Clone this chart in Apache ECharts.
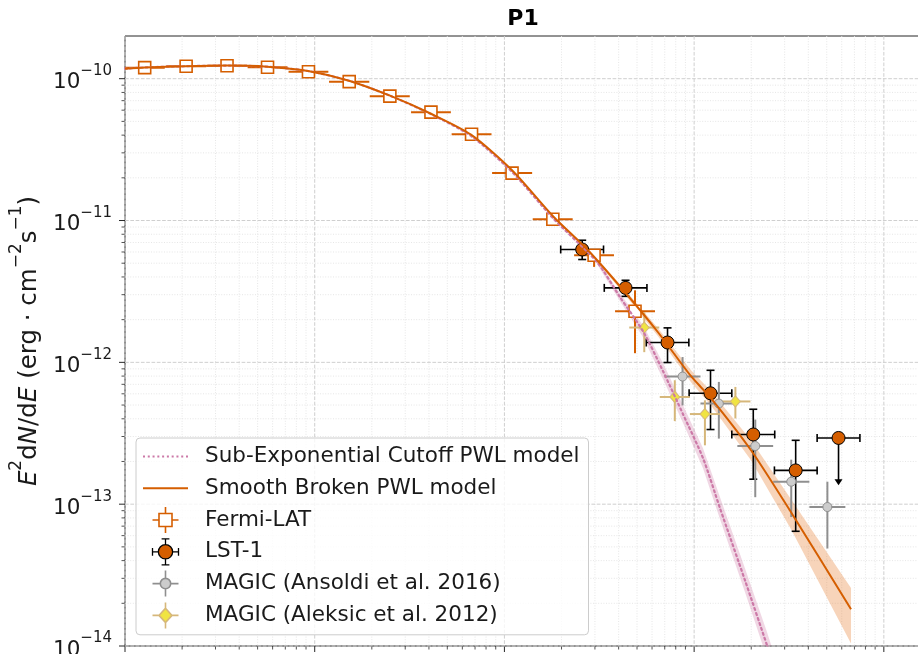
<!DOCTYPE html>
<html>
<head>
<meta charset="utf-8">
<script src="https://cdn.jsdelivr.net/npm/echarts@6/dist/echarts.min.js"></script>
<style>html,body{margin:0;padding:0;background:#fff}#chart{width:918px;height:654px}</style>
</head>
<body>
<div id="chart"></div>
<script>
// ---------------- data ----------------
// Fermi-LAT (energy GeV, E2dN/dE erg cm-2 s-1)
const fermiE   = [0.127, 0.210, 0.345, 0.564, 0.927, 1.52, 2.49, 4.10, 6.71, 10.97, 18.0, 29.7, 48.8];
const fermiElo = [0.0997, 0.165, 0.271, 0.443, 0.728, 1.19, 1.95, 3.22, 5.27, 8.61, 14.1, 23.3, 38.3];
const fermiEhi = [0.162, 0.268, 0.440, 0.719, 1.18, 1.94, 3.17, 5.22, 8.55, 14.0, 22.9, 37.8, 62.2];
const fermiF   = [1.196e-10, 1.225e-10, 1.235e-10, 1.205e-10, 1.12e-10, 9.53e-11, 7.53e-11, 5.81e-11, 4.06e-11, 2.16e-11, 1.02e-11, 5.69e-12, 2.29e-12];
const fermiFlo = [1.17e-10, 1.20e-10, 1.21e-10, 1.18e-10, 1.09e-10, 9.25e-11, 7.3e-11, 5.6e-11, 3.9e-11, 2.07e-11, 9.7e-12, 4.71e-12, 1.16e-12];
const fermiFhi = [1.22e-10, 1.25e-10, 1.26e-10, 1.23e-10, 1.15e-10, 9.8e-11, 7.75e-11, 6.0e-11, 4.2e-11, 2.25e-11, 1.07e-11, 6.18e-12, 3.22e-12];

// LST-1 detections
const lstE   = [25.7, 43.5, 72.4, 122, 205, 343];
const lstElo = [19.8, 33.6, 55.9, 94.1, 158, 265];
const lstEhi = [33.3, 56.4, 93.8, 158, 266, 445];
const lstF   = [6.25e-12, 3.35e-12, 1.38e-12, 6.05e-13, 3.10e-13, 1.73e-13];
const lstFlo = [5.31e-12, 2.92e-12, 9.97e-13, 3.36e-13, 1.50e-13, 6.44e-14];
const lstFhi = [7.26e-12, 3.79e-12, 1.75e-12, 8.79e-13, 4.67e-13, 2.82e-13];
// LST-1 upper limit
const lstUlE = [577];
const lstUlElo = [445];
const lstUlEhi = [748];
const lstUlF = [2.93e-13];
const lstUlArrowTip = [1.36e-13];

// MAGIC (Ansoldi et al. 2016)
const ansE   = [86.9, 135, 210, 325, 504];
const ansElo = [69.8, 108, 169, 261, 405];
const ansEhi = [108, 168, 261, 405, 627];
const ansF   = [7.94e-13, 5.12e-13, 2.57e-13, 1.44e-13, 9.55e-14];
const ansFlo = [4.97e-13, 2.90e-13, 1.12e-13, 8.12e-14, 4.87e-14];
const ansFhi = [1.09e-12, 7.28e-13, 3.95e-13, 2.06e-13, 1.44e-13];

// MAGIC (Aleksic et al. 2012)
const aleE   = [54.6, 79.1, 114, 165];
const aleElo = [45.5, 65.9, 95, 137.5];
const aleEhi = [65.5, 94.9, 137, 198];
const aleF   = [1.76e-12, 5.70e-13, 4.32e-13, 5.30e-13];
const aleFlo = [1.18e-12, 3.85e-13, 2.60e-13, 4.02e-13];
const aleFhi = [2.25e-12, 7.48e-13, 5.40e-13, 6.71e-13];

// Smooth broken PWL model (curve) and its band
const sbpE = [0.1, 0.1274, 0.2097, 0.3448, 0.5606, 0.922, 1.516, 2.494, 4.104, 6.668, 10.97, 18.04, 27.59, 43.2, 64.5, 96.3, 122.8, 199.5, 324.2, 671.5];
const sbpF = [1.176e-10, 1.201e-10, 1.225e-10, 1.237e-10, 1.215e-10, 1.133e-10, 9.68e-11, 7.59e-11, 5.66e-11, 4.03e-11, 2.26e-11, 1.072e-11, 6.17e-12, 3.12e-12, 1.63e-12, 7.98e-13, 5.58e-13, 2.40e-13, 8.77e-14, 1.815e-14];
const sbpBandE  = [18.04, 27.59, 43.2, 64.5, 96.3, 122.8, 199.5, 324.2, 671.5];
const sbpBandLo = [1.055e-11, 6.02e-12, 2.995e-12, 1.529e-12, 7.24e-13, 4.97e-13, 2.04e-13, 6.65e-14, 1.04e-14];
const sbpBandHi = [1.09e-11, 6.32e-12, 3.25e-12, 1.738e-12, 8.80e-13, 6.26e-13, 2.82e-13, 1.082e-13, 2.56e-14];

// Sub-exponential cutoff PWL model and its band
const secE = [0.1, 0.1274, 0.2097, 0.3448, 0.5606, 0.922, 1.516, 2.494, 4.104, 6.668, 10.97, 18.04, 30.8, 40.7, 53.8, 68.6, 87.4, 111.4, 136.9, 185.5, 242.3, 283.7];
const secF = [1.176e-10, 1.201e-10, 1.225e-10, 1.237e-10, 1.215e-10, 1.133e-10, 9.68e-11, 7.59e-11, 5.62e-11, 3.95e-11, 2.20e-11, 1.038e-11, 5.08e-12, 2.88e-12, 1.657e-12, 8.65e-13, 4.31e-13, 2.11e-13, 9.36e-14, 2.90e-14, 1.01e-14, 5.3e-15];
const secBandE  = [30.8, 40.7, 53.8, 68.6, 87.4, 111.4, 136.9, 185.5, 242.3, 283.7];
const secBandLo = [4.92e-12, 2.70e-12, 1.504e-12, 7.59e-13, 3.73e-13, 1.79e-13, 7.83e-14, 2.39e-14, 8.2e-15, 4.3e-15];
const secBandHi = [5.25e-12, 3.07e-12, 1.826e-12, 9.85e-13, 4.99e-13, 2.48e-13, 1.12e-13, 3.52e-14, 1.25e-14, 6.5e-15];

// axes
const xMin = 0.1, xMax = 1570;
const yMin = 1e-14, yMax = 2e-10;
const xMajorTicks = [0.1, 1, 10, 100, 1000];
const xMinorTicks = [0.2,0.3,0.4,0.5,0.6,0.7,0.8,0.9, 2,3,4,5,6,7,8,9, 20,30,40,50,60,70,80,90, 200,300,400,500,600,700,800,900];
const yMajorTicks = [1e-14, 1e-13, 1e-12, 1e-11, 1e-10];
const yTickExponents = ['−14', '−13', '−12', '−11', '−10'];
const yMinorTicks = [2e-14,3e-14,4e-14,5e-14,6e-14,7e-14,8e-14,9e-14, 2e-13,3e-13,4e-13,5e-13,6e-13,7e-13,8e-13,9e-13,
                     2e-12,3e-12,4e-12,5e-12,6e-12,7e-12,8e-12,9e-12, 2e-11,3e-11,4e-11,5e-11,6e-11,7e-11,8e-11,9e-11];

const seriesNames = ['Sub-Exponential Cutoff PWL model', 'Smooth Broken PWL model', 'Fermi-LAT', 'LST-1',
                     'MAGIC (Ansoldi et al. 2016)', 'MAGIC (Aleksic et al. 2012)'];

// ---------------- styling ----------------
const FONT = 'DejaVu Sans';
const ORANGE = '#D55E00';
const PINK = '#CC79A7';
const TEXT = '#1a1a1a';

function zipErr(E, F, Elo, Ehi, Flo, Fhi) {
  return E.map((e, i) => [e, F[i], Elo[i], Ehi[i], Flo[i], Fhi[i]]);
}

function errRender(color, lw, cap) {
  return function (params, api) {
    const E = api.value(0), F = api.value(1);
    const c = api.coord([E, F]);
    const l = api.coord([api.value(2), F]);
    const r = api.coord([api.value(3), F]);
    const lo = api.coord([E, api.value(4)]);
    const hi = api.coord([E, api.value(5)]);
    const st = () => ({ stroke: color, lineWidth: lw });
    const ch = [
      { type: 'line', shape: { x1: l[0], y1: c[1], x2: r[0], y2: c[1] }, style: st() },
      { type: 'line', shape: { x1: c[0], y1: lo[1], x2: c[0], y2: hi[1] }, style: st() }
    ];
    if (cap) {
      ch.push({ type: 'line', shape: { x1: l[0], y1: c[1] - cap, x2: l[0], y2: c[1] + cap }, style: st() });
      ch.push({ type: 'line', shape: { x1: r[0], y1: c[1] - cap, x2: r[0], y2: c[1] + cap }, style: st() });
      ch.push({ type: 'line', shape: { x1: c[0] - cap, y1: lo[1], x2: c[0] + cap, y2: lo[1] }, style: st() });
      ch.push({ type: 'line', shape: { x1: c[0] - cap, y1: hi[1], x2: c[0] + cap, y2: hi[1] }, style: st() });
    }
    return { type: 'group', children: ch };
  };
}

function bandSeries(xs, lo, hi, color) {
  return {
    type: 'custom', silent: true, clip: true, z: 1,
    data: [[xs[0], lo[0]]], encode: { x: 0, y: 1 },
    renderItem: function (params, api) {
      const pts = [];
      for (let i = 0; i < xs.length; i++) pts.push(api.coord([xs[i], hi[i]]));
      for (let i = xs.length - 1; i >= 0; i--) pts.push(api.coord([xs[i], lo[i]]));
      return { type: 'polygon', shape: { points: pts }, style: { fill: color } };
    }
  };
}

const gridSeries = {
  type: 'custom', silent: true, clip: false, z: 0,
  data: [[1, 1e-12]], encode: { x: 0, y: 1 },
  renderItem: function (params, api) {
    const cs = params.coordSys;
    const x0 = cs.x, x1 = cs.x + cs.width, y0 = cs.y, y1 = cs.y + cs.height;
    const ch = [];
    const inX = px => px >= x0 - 0.5 && px <= x1 + 0.5;
    const inY = py => py >= y0 - 0.5 && py <= y1 + 0.5;
    xMinorTicks.forEach(v => {
      const px = api.coord([v, yMin])[0];
      if (!inX(px)) return;
      ch.push({ type: 'line', shape: { x1: px, y1: y0, x2: px, y2: y1 }, style: { stroke: '#e3e3e3', lineWidth: 0.9, lineDash: [1, 1.6] } });
      ch.push({ type: 'line', shape: { x1: px, y1: y1, x2: px, y2: y1 + 3.5 }, style: { stroke: '#262626', lineWidth: 0.8 } });
    });
    yMinorTicks.forEach(v => {
      const py = api.coord([1, v])[1];
      if (!inY(py)) return;
      ch.push({ type: 'line', shape: { x1: x0, y1: py, x2: x1, y2: py }, style: { stroke: '#e3e3e3', lineWidth: 0.9, lineDash: [1, 1.6] } });
      ch.push({ type: 'line', shape: { x1: x0 - 3.5, y1: py, x2: x0, y2: py }, style: { stroke: '#262626', lineWidth: 0.8 } });
    });
    xMajorTicks.forEach(v => {
      const px = api.coord([v, yMin])[0];
      if (!inX(px)) return;
      ch.push({ type: 'line', shape: { x1: px, y1: y0, x2: px, y2: y1 }, style: { stroke: '#cfcfcf', lineWidth: 1, lineDash: [3.7, 1.6] } });
      ch.push({ type: 'line', shape: { x1: px, y1: y1, x2: px, y2: y1 + 6 }, style: { stroke: '#262626', lineWidth: 1 } });
    });
    yMajorTicks.forEach(v => {
      const py = api.coord([1, v])[1];
      if (!inY(py)) return;
      ch.push({ type: 'line', shape: { x1: x0, y1: py, x2: x1, y2: py }, style: { stroke: '#cfcfcf', lineWidth: 1, lineDash: [3.7, 1.6] } });
      ch.push({ type: 'line', shape: { x1: x0 - 6, y1: py, x2: x0, y2: py }, style: { stroke: '#262626', lineWidth: 1 } });
    });
    return { type: 'group', children: ch };
  }
};

const ulSeries = {
  type: 'custom', name: 'LST-1', silent: true, clip: true,
  data: lstUlE.map((e, i) => [e, lstUlF[i], lstUlElo[i], lstUlEhi[i], lstUlArrowTip[i]]),
  encode: { x: 0, y: 1 },
  renderItem: function (params, api) {
    const E = api.value(0), F = api.value(1);
    const c = api.coord([E, F]);
    const l = api.coord([api.value(2), F]);
    const r = api.coord([api.value(3), F]);
    const tip = api.coord([E, api.value(4)]);
    const st = () => ({ stroke: '#000', lineWidth: 1.6 });
    const cap = 4;
    return {
      type: 'group', children: [
        { type: 'line', shape: { x1: l[0], y1: c[1], x2: r[0], y2: c[1] }, style: st() },
        { type: 'line', shape: { x1: l[0], y1: c[1] - cap, x2: l[0], y2: c[1] + cap }, style: st() },
        { type: 'line', shape: { x1: r[0], y1: c[1] - cap, x2: r[0], y2: c[1] + cap }, style: st() },
        { type: 'line', shape: { x1: c[0], y1: c[1], x2: c[0], y2: tip[1] - 5 }, style: st() },
        { type: 'polygon', shape: { points: [[c[0] - 4, tip[1] - 6], [c[0] + 4, tip[1] - 6], [c[0], tip[1]]] }, style: { fill: '#000' } }
      ]
    };
  }
};

const tickRich = {
  b: { fontFamily: FONT, fontSize: 21.5, lineHeight: 30, verticalAlign: 'bottom', color: TEXT },
  s: { fontFamily: FONT, fontSize: 15, lineHeight: 18, verticalAlign: 'top', color: TEXT }
};
const nameRich = {
  b: { fontFamily: FONT, fontSize: 24.5, lineHeight: 34, verticalAlign: 'bottom', color: TEXT },
  i: { fontFamily: FONT, fontSize: 24.5, lineHeight: 34, verticalAlign: 'bottom', fontStyle: 'italic', color: TEXT },
  s: { fontFamily: FONT, fontSize: 17, lineHeight: 20, verticalAlign: 'top', color: TEXT }
};

// legend icon for the dotted model line (styling only)
let dotPath = 'path://';
for (let k = 0; k < 10; k++) dotPath += 'M' + (k * 4.78).toFixed(2) + ',0h2v2h-2z';

const chart = echarts.init(document.getElementById('chart'), null, { renderer: 'canvas' });
chart.setOption({
  animation: false,
  backgroundColor: '#ffffff',
  title: {
    text: 'P1', left: 523, top: 8, textAlign: 'center', padding: 0,
    textStyle: { fontFamily: FONT, fontWeight: 'bold', fontSize: 22, color: '#000' }
  },
  grid: {
    left: 125, top: 36, width: 796, height: 610, containLabel: false, outerBoundsMode: 'none',
    show: true, borderColor: '#262626', borderWidth: 1, backgroundColor: 'transparent'
  },
  legend: {
    orient: 'vertical', left: 136, top: 438,
    padding: [2.5, 9, 3.5, 7], itemGap: 0, itemWidth: 45, itemHeight: 26,
    backgroundColor: 'rgba(255,255,255,0.8)', borderColor: '#cccccc', borderWidth: 1, borderRadius: 4,
    selectedMode: false,
    textStyle: { fontFamily: FONT, fontSize: 21.5, lineHeight: 31.8, color: TEXT, padding: [0, 0, 0, 12] },
    data: [
      { name: seriesNames[0], icon: dotPath, itemStyle: { color: PINK, borderWidth: 0 } },
      { name: seriesNames[1], icon: 'path://M0,0H45V2H0Z', itemStyle: { color: ORANGE, borderWidth: 0 } },
      { name: seriesNames[2], icon: 'path://M0,10H5M15,10H20M10,0V5M10,15V20M5,5H15V15H5Z',
        itemStyle: { color: '#ffffff', borderColor: ORANGE, borderWidth: 1.6 } },
      { name: seriesNames[3], icon: 'path://M0,10H4.5M15.5,10H20M0,7V13M20,7V13M10,0V4.5M10,15.5V20M7,0H13M7,20H13M4.5,10A5.5,5.5,0,1,1,15.5,10A5.5,5.5,0,1,1,4.5,10Z',
        itemStyle: { color: ORANGE, borderColor: '#000', borderWidth: 1.3 } },
      { name: seriesNames[4], icon: 'path://M0,10H6M14,10H20M10,0V6M10,14V20M6,10A4,4,0,1,1,14,10A4,4,0,1,1,6,10Z',
        itemStyle: { color: '#cccccc', borderColor: '#8f8f8f', borderWidth: 1.6 } },
      { name: seriesNames[5], icon: 'path://M0,10H5M15,10H20M10,0V5M10,15V20M10,4.5L15,10L10,15.5L5,10Z',
        itemStyle: { color: '#F0E442', borderColor: '#d6b77a', borderWidth: 1.6 } }
    ]
  },
  xAxis: {
    type: 'log', logBase: 10, min: xMin, max: xMax,
    axisLine: { show: false }, axisTick: { show: false }, axisLabel: { show: false },
    splitLine: { show: false }, minorTick: { show: false }, minorSplitLine: { show: false }
  },
  yAxis: {
    type: 'log', logBase: 10, min: yMin, max: yMax,
    axisLine: { show: false }, axisTick: { show: false },
    splitLine: { show: false }, minorTick: { show: false }, minorSplitLine: { show: false },
    axisLabel: {
      margin: 13,
      formatter: function (v) {
        const idx = yMajorTicks.findIndex(t => Math.abs(Math.log10(t) - Math.log10(v)) < 1e-6);
        return idx < 0 ? '' : '{b|10}{s|' + yTickExponents[idx] + '}';
      },
      rich: tickRich
    },
    name: '{i|E}{s|2}{b|d}{i|N}{b|/d}{i|E}{b| (erg · cm}{s|−2}{b|s}{s|−1}{b|)}',
    nameLocation: 'middle', nameGap: 74,
    nameTextStyle: { rich: nameRich, fontFamily: FONT, fontSize: 24.5, color: TEXT }
  },
  series: [
    gridSeries,
    bandSeries(secBandE, secBandLo, secBandHi, 'rgba(204,121,167,0.3)'),
    bandSeries(sbpBandE, sbpBandLo, sbpBandHi, 'rgba(230,120,40,0.32)'),
    {
      type: 'line', name: seriesNames[0], data: secE.map((e, i) => [e, secF[i]]),
      showSymbol: false, symbol: 'none', smooth: 0.25, clip: true, silent: true,
      lineStyle: { color: PINK, width: 2.2, type: [2, 3.2], cap: 'round' }, itemStyle: { color: PINK }
    },
    {
      type: 'line', name: seriesNames[1], data: sbpE.map((e, i) => [e, sbpF[i]]),
      showSymbol: false, symbol: 'none', smooth: 0.25, clip: true, silent: true,
      lineStyle: { color: ORANGE, width: 2 }, itemStyle: { color: ORANGE }
    },
    {
      type: 'custom', name: seriesNames[2], silent: true, clip: true,
      data: zipErr(fermiE, fermiF, fermiElo, fermiEhi, fermiFlo, fermiFhi), encode: { x: 0, y: 1 },
      renderItem: errRender(ORANGE, 2, 0)
    },
    {
      type: 'scatter', name: seriesNames[2], data: fermiE.map((e, i) => [e, fermiF[i]]), silent: true,
      symbol: 'rect', symbolSize: 12, itemStyle: { color: '#ffffff', borderColor: ORANGE, borderWidth: 1.6, opacity: 1 }
    },
    {
      type: 'custom', name: seriesNames[3], silent: true, clip: true,
      data: zipErr(lstE, lstF, lstElo, lstEhi, lstFlo, lstFhi), encode: { x: 0, y: 1 },
      renderItem: errRender('#000000', 1.6, 4)
    },
    ulSeries,
    {
      type: 'scatter', name: seriesNames[3], data: lstE.concat(lstUlE).map((e, i) => [e, lstF.concat(lstUlF)[i]]), silent: true,
      symbol: 'circle', symbolSize: 13, itemStyle: { color: ORANGE, borderColor: '#000', borderWidth: 1, opacity: 1 }
    },
    {
      type: 'custom', name: seriesNames[4], silent: true, clip: true,
      data: zipErr(ansE, ansF, ansElo, ansEhi, ansFlo, ansFhi), encode: { x: 0, y: 1 },
      renderItem: errRender('#8f8f8f', 2, 0)
    },
    {
      type: 'scatter', name: seriesNames[4], data: ansE.map((e, i) => [e, ansF[i]]), silent: true,
      symbol: 'circle', symbolSize: 9, itemStyle: { color: '#cccccc', borderColor: '#8f8f8f', borderWidth: 1, opacity: 1 }
    },
    {
      type: 'custom', name: seriesNames[5], silent: true, clip: true,
      data: zipErr(aleE, aleF, aleElo, aleEhi, aleFlo, aleFhi), encode: { x: 0, y: 1 },
      renderItem: errRender('#d6b77a', 2, 0)
    },
    {
      type: 'scatter', name: seriesNames[5], data: aleE.map((e, i) => [e, aleF[i]]), silent: true,
      symbol: 'diamond', symbolSize: [10, 11], itemStyle: { color: '#F0E442', borderColor: '#d6b77a', borderWidth: 1, opacity: 1 }
    }
  ]
});
</script>
</body>
</html>
